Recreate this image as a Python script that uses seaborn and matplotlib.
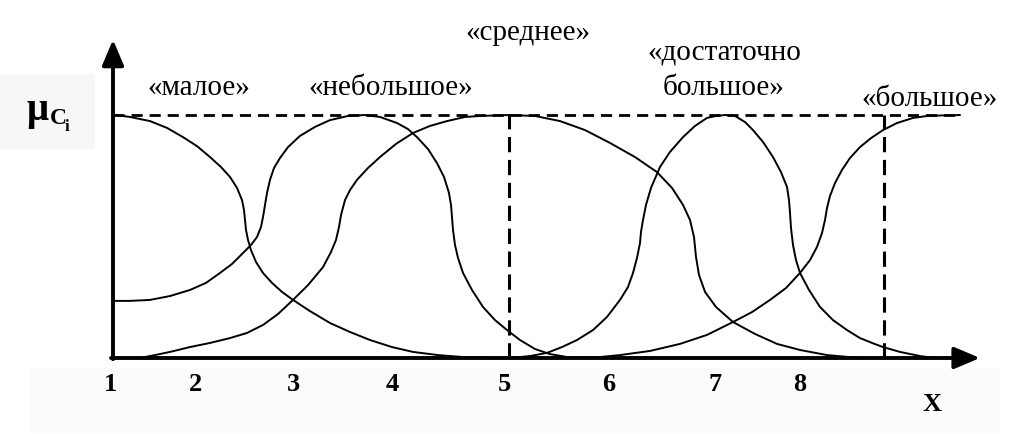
import numpy as np
import pandas as pd
import matplotlib
matplotlib.use("Agg")
import matplotlib.pyplot as plt
import seaborn as sns

# Функции принадлежности (x - положение на оси, mu - степень принадлежности)
terms = ["малое", "небольшое", "среднее", "достаточно большое", "большое"]

x_maloe = [115, 130, 150, 167, 183, 197, 210, 221, 230, 237, 242, 244, 245, 246, 248, 251, 256, 263, 272,
           282, 293, 310, 330, 350, 370, 392, 413, 438, 463, 500]
mu_maloe = [1.0, 0.992, 0.975, 0.947, 0.909, 0.872, 0.827, 0.786, 0.745, 0.700, 0.650, 0.609, 0.568, 0.527,
            0.486, 0.444, 0.395, 0.350, 0.309, 0.272, 0.239, 0.193, 0.144, 0.107, 0.074, 0.045, 0.025, 0.012,
            0.004, 0.0]

x_nebolshoe = [115, 130, 150, 170, 190, 206, 220, 232, 243, 251, 257, 261, 263, 265, 267, 270, 274, 280, 288,
               300, 315, 330, 348, 365, 380, 397, 408, 417, 428, 437, 444, 449, 451, 452, 453, 455, 458, 463,
               472, 483, 495, 507, 520, 535, 550, 567, 590]
mu_nebolshoe = [0.235, 0.235, 0.239, 0.255, 0.280, 0.309, 0.350, 0.387, 0.432, 0.465, 0.498, 0.539, 0.580,
                0.630, 0.679, 0.733, 0.782, 0.823, 0.868, 0.914, 0.951, 0.979, 0.996, 1.0, 0.992, 0.967, 0.942,
                0.909, 0.860, 0.802, 0.745, 0.679, 0.630, 0.580, 0.527, 0.465, 0.412, 0.350, 0.280, 0.210,
                0.156, 0.115, 0.074, 0.037, 0.016, 0.004, 0.0]

x_srednee = [140, 155, 170, 190, 210, 230, 247, 263, 278, 293, 308, 323, 331, 336, 339, 341, 345, 350, 357,
             368, 380, 396, 413, 430, 447, 465, 480, 509, 535, 560, 585, 610, 635, 657, 672, 683, 690, 694,
             696, 699, 705, 716, 733, 755, 777, 800, 827, 860]
mu_srednee = [0.0, 0.012, 0.025, 0.045, 0.062, 0.082, 0.103, 0.136, 0.181, 0.239, 0.300, 0.374, 0.436,
              0.486, 0.539, 0.588, 0.650, 0.691, 0.733, 0.782, 0.827, 0.881, 0.926, 0.955, 0.975, 0.992,
              0.996, 1.0, 0.996, 0.975, 0.938, 0.885, 0.827, 0.765, 0.700, 0.630, 0.568, 0.498, 0.416,
              0.342, 0.272, 0.210, 0.148, 0.099, 0.058, 0.033, 0.012, 0.0]

x_dost = [510, 530, 547, 562, 577, 593, 607, 620, 628, 633, 637, 640, 641, 643, 646, 651, 660, 670, 683,
          695, 707, 716, 725, 735, 745, 753, 763, 773, 781, 787, 789, 790, 791, 793, 796, 800, 809, 820,
          833, 847, 860, 872, 883, 900, 920, 935]
mu_dost = [0.0, 0.008, 0.021, 0.045, 0.074, 0.115, 0.169, 0.239, 0.292, 0.350, 0.412, 0.473, 0.519, 0.568,
           0.630, 0.700, 0.786, 0.848, 0.909, 0.955, 0.988, 0.996, 1.0, 0.996, 0.971, 0.938, 0.889, 0.827,
           0.765, 0.704, 0.650, 0.597, 0.535, 0.465, 0.403, 0.350, 0.280, 0.210, 0.156, 0.115, 0.082,
           0.062, 0.045, 0.025, 0.008, 0.0]

x_bolshoe = [575, 600, 620, 650, 680, 707, 733, 752, 770, 786, 800, 810, 817, 822, 825, 827, 830, 835, 842,
             850, 860, 871, 883, 897, 913, 927, 940, 960]
mu_bolshoe = [0.0, 0.004, 0.012, 0.029, 0.058, 0.095, 0.148, 0.189, 0.239, 0.288, 0.350, 0.403, 0.457,
              0.514, 0.568, 0.617, 0.667, 0.720, 0.774, 0.823, 0.868, 0.905, 0.938, 0.967, 0.988, 0.996,
              0.998, 1.0]

# подписи оси X
tick_pos = [110, 196, 293, 392, 504, 609, 715, 800]
tick_labels = ["1", "2", "3", "4", "5", "6", "7", "8"]

df = pd.concat([
    pd.DataFrame({"x": x_maloe, "mu": mu_maloe, "term": terms[0]}),
    pd.DataFrame({"x": x_nebolshoe, "mu": mu_nebolshoe, "term": terms[1]}),
    pd.DataFrame({"x": x_srednee, "mu": mu_srednee, "term": terms[2]}),
    pd.DataFrame({"x": x_dost, "mu": mu_dost, "term": terms[3]}),
    pd.DataFrame({"x": x_bolshoe, "mu": mu_bolshoe, "term": terms[4]}),
], ignore_index=True)

sns.set_theme(style="white")
plt.rcParams["font.family"] = ["Liberation Serif", "DejaVu Serif"]
plt.rcParams["text.color"] = "black"

fig = plt.figure(figsize=(10.24, 4.34), dpi=100)
ax = fig.add_axes([0, 0, 1, 1])
ax.set_xlim(0, 1024)
ax.set_ylim(-0.3128, 1.4733)
ax.axis("off")

# светлые подложки как на скане
ax.add_patch(plt.Rectangle((0, 0.86), 95, 0.31, color="#f7f7f7", zorder=0, lw=0))
ax.add_patch(plt.Rectangle((30, -0.31), 970, 0.27, color="#fbfbfb", zorder=0, lw=0))

for t in terms:
    d = df[df["term"] == t]
    sns.lineplot(data=d, x="x", y="mu", sort=False, estimator=None, color="black",
                 linewidth=1.4, ax=ax, legend=False)

# пунктирные линии
ax.plot([113, 960], [1, 1], color="black", lw=2.0, dashes=(4, 2.5))
ax.plot([509, 509], [0, 1], color="black", lw=2.2, dashes=(5, 2.5))
ax.plot([884, 884], [0, 1], color="black", lw=2.2, dashes=(5, 2.5))

# оси со стрелками
ax.annotate("", xy=(980, 0), xytext=(111, 0),
            arrowprops=dict(arrowstyle="-|>,head_length=1.3,head_width=0.55", color="black", lw=2.8,
                            shrinkA=0, shrinkB=0))
ax.annotate("", xy=(113, 1.31), xytext=(113, -0.005),
            arrowprops=dict(arrowstyle="-|>,head_length=1.3,head_width=0.55", color="black", lw=2.8,
                            shrinkA=0, shrinkB=0))

for p, lab in zip(tick_pos, tick_labels):
    ax.text(p, -0.111, lab, ha="center", va="center", fontsize=19, fontweight="bold")
ax.text(932, -0.193, "X", ha="center", va="center", fontsize=19, fontweight="bold")

# обозначение mu_Ci
ax.text(38, 1.02, "μ", ha="center", va="center", fontsize=28, fontweight="bold")
ax.text(58, 0.985, "C", ha="center", va="center", fontsize=17, fontweight="bold")
ax.text(67, 0.95, "i", ha="center", va="center", fontsize=12, fontweight="bold")

fs = 21
ax.text(199, 1.111, "«малое»", ha="center", va="center", fontsize=fs)
ax.text(391, 1.111, "«небольшое»", ha="center", va="center", fontsize=fs)
ax.text(528, 1.337, "«среднее»", ha="center", va="center", fontsize=fs)
ax.text(724, 1.259, "«достаточно", ha="center", va="center", fontsize=fs)
ax.text(724, 1.111, "большое»", ha="center", va="center", fontsize=fs)
ax.text(930, 1.066, "«большое»", ha="center", va="center", fontsize=fs)

fig.savefig("out.png", dpi=100)
